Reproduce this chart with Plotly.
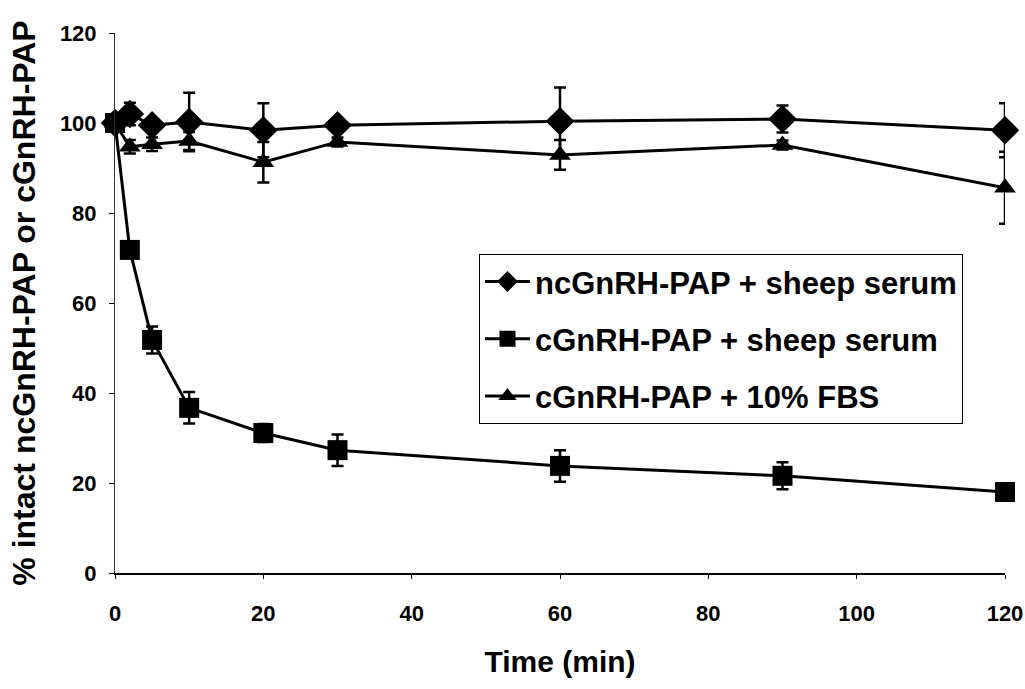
import plotly.graph_objects as go

# Sampling times (min)
time_min = [0, 2, 5, 10, 20, 30, 60, 90, 120]

# % intact conjugate, mean and error
nc_sheep = [100, 102, 99.5, 100.2, 98.4, 99.5, 100.4, 100.9, 98.4]
nc_sheep_err = [0, 2.5, 1, 6.5, 6, 1, 7.5, 3, 6]

c_sheep = [100, 71.8, 51.8, 36.7, 31.1, 27.3, 23.8, 21.6, 18.0]
c_sheep_err = [0, 1.5, 3, 3.5, 2, 3.5, 3.5, 3, 1.5]

c_fbs = [100, 94.7, 95.3, 96.0, 91.3, 95.8, 92.9, 95.1, 85.6]
c_fbs_err = [0, 1.5, 1.5, 2, 4.5, 1, 3.3, 1, 8]

x_ticks = [0, 20, 40, 60, 80, 100, 120]
y_ticks = [0, 20, 40, 60, 80, 100, 120]

FONT = "Liberation Sans, Arial, sans-serif"


def series(x, y, err, name, symbol, size, rank):
    return go.Scatter(
        x=x, y=y, name=name, mode="lines+markers",
        line=dict(color="black", width=3),
        marker=dict(symbol=symbol, size=size, color="black",
                    line=dict(color="black", width=0)),
        error_y=dict(type="data", array=err, visible=True,
                     color="black", thickness=2.5, width=6),
        legendgroup=name, legendrank=rank, cliponaxis=False,
    )


fig = go.Figure()
fig.add_trace(series(time_min, nc_sheep, nc_sheep_err,
                     "ncGnRH-PAP + sheep serum", "diamond", 22, 1))
fig.add_trace(series(time_min, c_fbs, c_fbs_err,
                     "cGnRH-PAP + 10% FBS", "triangle-up", 19, 3))
fig.add_trace(series(time_min, c_sheep, c_sheep_err,
                     "cGnRH-PAP + sheep serum", "square", 20, 2))

fig.update_layout(
    width=1025, height=689,
    margin=dict(l=115, r=20, t=33, b=116),
    paper_bgcolor="white", plot_bgcolor="white",
    font=dict(family=FONT, color="black"),
    showlegend=True,
    legend=dict(
        x=0.409, y=0.591, xanchor="left", yanchor="top",
        bgcolor="white", bordercolor="black", borderwidth=1,
        font=dict(family=FONT, size=31, color="black", weight="bold"),
        traceorder="grouped", tracegroupgap=14, itemwidth=45,
    ),
    xaxis=dict(
        range=[0, 120], tickvals=x_ticks, showgrid=False, zeroline=False,
        showline=True, linecolor="black", linewidth=1.5, automargin=False,
        ticks="outside", ticklen=4, tickcolor="black",
        ticklabelstandoff=16,
        tickfont=dict(family=FONT, size=22, weight="bold"),
        title=dict(text="Time (min)", standoff=26,
                   font=dict(family=FONT, size=30, weight="bold")),
    ),
    yaxis=dict(
        range=[0, 120], tickvals=y_ticks, showgrid=False, zeroline=False,
        showline=True, linecolor="#333", linewidth=1, automargin=False,
        ticks="outside", ticklen=5, tickcolor="black",
        ticklabelstandoff=8,
        tickfont=dict(family=FONT, size=22, weight="bold"),
        title=dict(text="% intact ncGnRH-PAP or cGnRH-PAP", standoff=14,
                   font=dict(family=FONT, size=32, weight="bold")),
    ),
)

fig.write_html("out.html")
